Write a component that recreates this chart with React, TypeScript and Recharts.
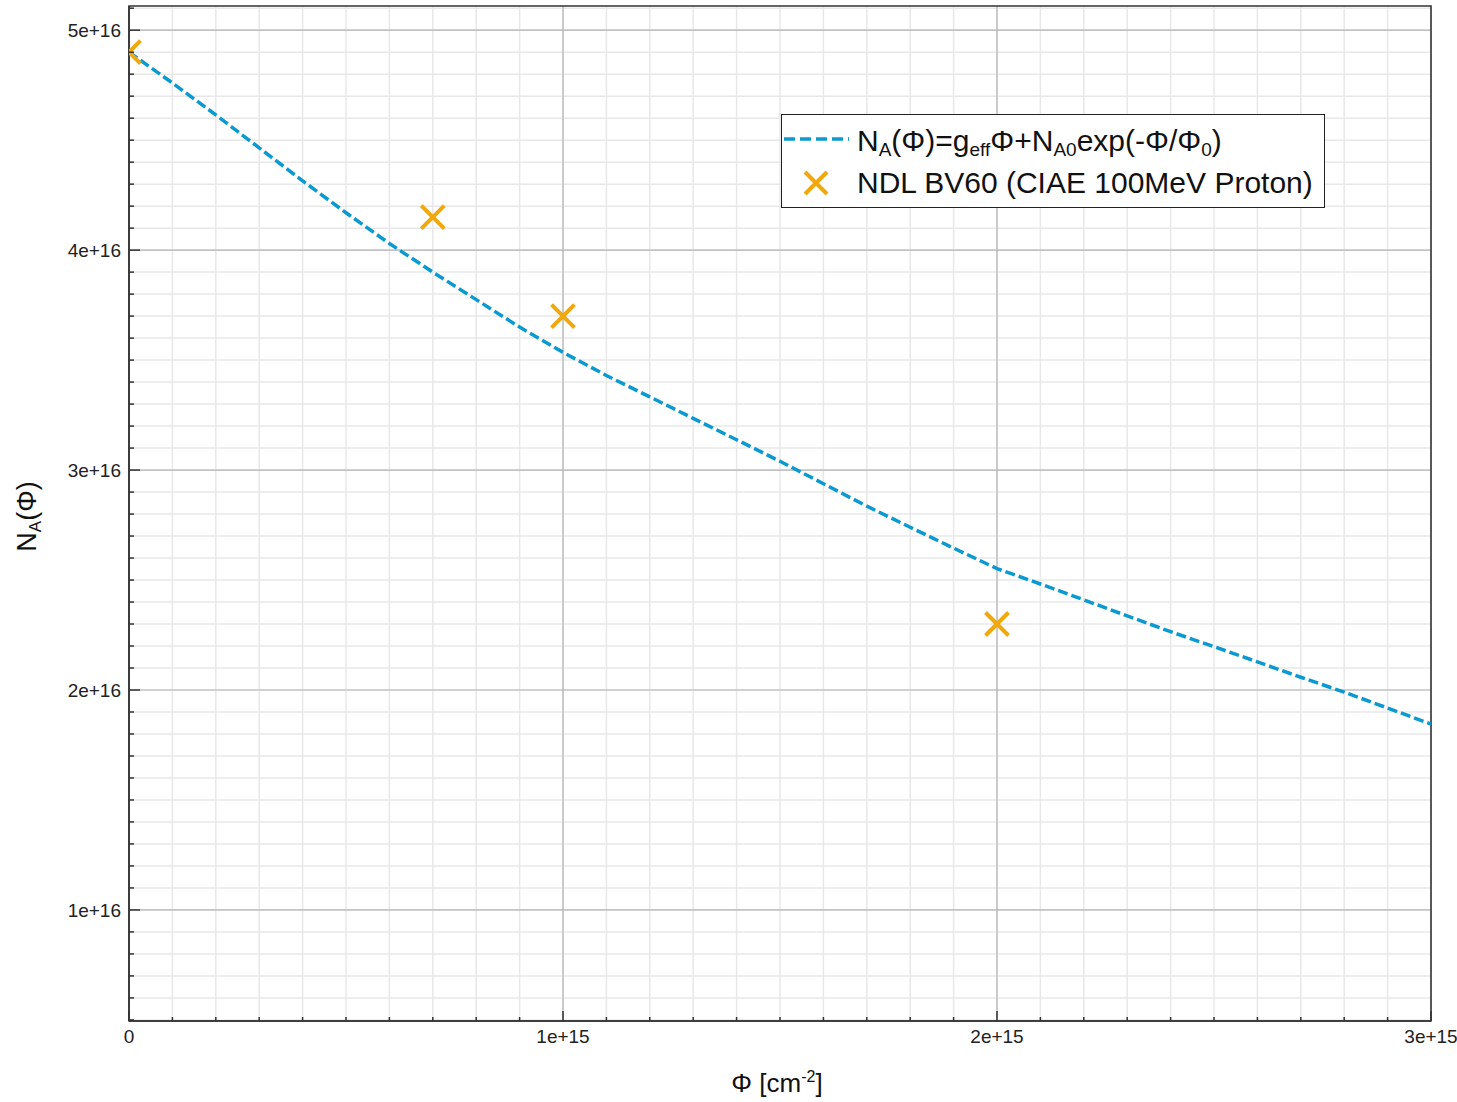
import React from 'react';
import {
  ComposedChart,
  Line,
  Scatter,
  XAxis,
  YAxis,
  CartesianGrid,
  ReferenceArea,
  Legend,
} from 'recharts';

// fit curve, sampled every 1e14 cm^-2
const fluence = [
  0, 1e14, 2e14, 3e14, 4e14, 5e14, 6e14, 7e14, 8e14, 9e14,
  1e15, 1.1e15, 1.2e15, 1.3e15, 1.4e15, 1.5e15, 1.6e15, 1.7e15, 1.8e15, 1.9e15,
  2e15, 2.1e15, 2.2e15, 2.3e15, 2.4e15, 2.5e15, 2.6e15, 2.7e15, 2.8e15, 2.9e15,
  3e15,
];
const fitNA = [
  4.9e16, 4.76e16, 4.615e16, 4.465e16, 4.315e16, 4.17e16, 4.03e16, 3.9e16, 3.775e16, 3.65e16,
  3.535e16, 3.43e16, 3.333e16, 3.235e16, 3.138e16, 3.04e16, 2.938e16, 2.836e16, 2.74e16, 2.645e16,
  2.552e16, 2.482e16, 2.41e16, 2.337e16, 2.265e16, 2.197e16, 2.128e16, 2.058e16, 1.99e16, 1.918e16,
  1.845e16,
];

// measured points
const measFluence = [0, 7e14, 1e15, 2e15];
const measNA = [4.9e16, 4.15e16, 3.7e16, 2.3e16];

const xDomain = [0, 3e15];
const yDomain = [4.95e15, 5.11e16];
const xMajorTicks = [0, 1e15, 2e15, 3e15];
const yMajorTicks = [1e16, 2e16, 3e16, 4e16, 5e16];
const xMinorTicks = Array.from({ length: 31 }, (_, i) => i * 1e14);
const yMinorTicks = Array.from({ length: 47 }, (_, i) => (i + 5) * 1e15);

const fitData = fluence.map((x, i) => ({ x, y: fitNA[i] }));
const measData = measFluence.map((x, i) => ({ x, y: measNA[i] }));

const FONT = '"Liberation Sans", Arial, sans-serif';
const LINE_COLOR = '#0a99d0';
const MARK_COLOR = '#f0a80c';
const AXIS_COLOR = '#333';

const fmt = (v: number) => (v === 0 ? '0' : v.toExponential());

const YTick = (props: any) => {
  const { x, y, payload } = props;
  const major = yMajorTicks.includes(payload.value);
  return (
    <g>
      <line x1={x} x2={x + (major ? 11 : 5)} y1={y} y2={y} stroke={AXIS_COLOR} strokeWidth={1.5} />
      {major && (
        <text x={x - 8} y={y} dy="0.36em" textAnchor="end" fontSize={19} fill="#222" fontFamily={FONT}>
          {fmt(payload.value)}
        </text>
      )}
    </g>
  );
};

const XTick = (props: any) => {
  const { x, y, payload } = props;
  const major = xMajorTicks.includes(payload.value);
  return (
    <g>
      <line x1={x} x2={x} y1={y} y2={y - (major ? 10 : 4)} stroke={AXIS_COLOR} strokeWidth={1.5} />
      {major && (
        <text x={x} y={y + 22} textAnchor="middle" fontSize={19} fill="#222" fontFamily={FONT}>
          {fmt(payload.value)}
        </text>
      )}
    </g>
  );
};

const XLabel = (props: any) => {
  const { viewBox } = props;
  const cx = viewBox.x + viewBox.width / 2 - 3;
  return (
    <text x={cx} y={viewBox.y + 71} textAnchor="middle" fontSize={26} fill="#111" fontFamily={FONT}>
      Φ [cm
      <tspan dy={-10} fontSize={16}>-2</tspan>
      <tspan dy={10}>]</tspan>
    </text>
  );
};

const YLabel = (props: any) => {
  const { viewBox } = props;
  const cx = viewBox.x + 36;
  const cy = viewBox.y + viewBox.height / 2 + 3;
  return (
    <text
      x={cx}
      y={cy}
      textAnchor="middle"
      fontSize={27}
      fill="#111"
      fontFamily={FONT}
      transform={`rotate(-90, ${cx}, ${cy})`}
    >
      N
      <tspan dy={5} fontSize={17}>A</tspan>
      <tspan dy={-5}>(Φ)</tspan>
    </text>
  );
};

const subStyle: React.CSSProperties = { fontSize: 19, verticalAlign: '-5px', lineHeight: 0 };

const renderLegend = () => (
  <div
    style={{
      width: 542,
      height: 92,
      border: '1px solid #222',
      background: '#fff',
      position: 'relative',
      fontFamily: FONT,
      fontSize: 30,
      color: '#111',
    }}
  >
    <div style={{ position: 'absolute', left: 0, top: 6, height: 40, display: 'flex', alignItems: 'center' }}>
      <svg width={75} height={40}>
        <line x1={2} x2={67} y1={18} y2={18} stroke={LINE_COLOR} strokeWidth={3.5} strokeDasharray="11 5" />
      </svg>
      <span style={{ lineHeight: '40px', whiteSpace: 'nowrap' }}>
        N<span style={subStyle}>A</span>(Φ)=g<span style={subStyle}>eff</span>Φ+N
        <span style={subStyle}>A0</span>exp(-Φ/Φ<span style={subStyle}>0</span>)
      </span>
    </div>
    <div style={{ position: 'absolute', left: 0, top: 48, height: 40, display: 'flex', alignItems: 'center' }}>
      <svg width={75} height={40}>
        <path d="M23 9 L45 31 M45 9 L23 31" stroke={MARK_COLOR} strokeWidth={4} fill="none" />
      </svg>
      <span style={{ lineHeight: '40px', whiteSpace: 'nowrap' }}>NDL BV60 (CIAE 100MeV Proton)</span>
    </div>
  </div>
);

const Cross = (props: any) => {
  const { cx, cy } = props;
  if (cx == null || cy == null) return null;
  const r = 11.5;
  return (
    <path
      d={`M${cx - r} ${cy - r} L${cx + r} ${cy + r} M${cx + r} ${cy - r} L${cx - r} ${cy + r}`}
      stroke={MARK_COLOR}
      strokeWidth={4}
      fill="none"
    />
  );
};

export default function App() {
  return (
    <div style={{ position: 'absolute', left: 0, top: 0, background: '#fff' }}>
      <ComposedChart width={1457} height={1102} margin={{ top: 6, right: 26, bottom: 0, left: 0 }}>
        <CartesianGrid horizontalValues={yMinorTicks} verticalValues={xMinorTicks} stroke="#e8e8e8" strokeWidth={1.5} />
        <CartesianGrid horizontalValues={yMajorTicks} verticalValues={xMajorTicks} stroke="#b4b4b4" strokeWidth={1.2} />
        <XAxis
          dataKey="x"
          type="number"
          domain={xDomain}
          allowDataOverflow
          ticks={xMinorTicks}
          interval={0}
          tickLine={false}
          tickSize={0}
          tickMargin={0}
          tick={<XTick />}
          axisLine={{ stroke: AXIS_COLOR, strokeWidth: 1.5 }}
          height={81}
          label={<XLabel />}
        />
        <YAxis
          dataKey="y"
          type="number"
          domain={yDomain}
          allowDataOverflow
          ticks={yMinorTicks}
          interval={0}
          tickLine={false}
          tickSize={0}
          tickMargin={0}
          tick={<YTick />}
          axisLine={{ stroke: AXIS_COLOR, strokeWidth: 1.5 }}
          width={129}
          label={<YLabel />}
        />
        <ReferenceArea
          x1={xDomain[0]}
          x2={xDomain[1]}
          y1={yDomain[0]}
          y2={yDomain[1]}
          fill="none"
          stroke={AXIS_COLOR}
          strokeWidth={1.5}
        />
        <Line
          data={fitData}
          dataKey="y"
          type="linear"
          stroke={LINE_COLOR}
          strokeWidth={3.5}
          strokeDasharray="10 4"
          dot={false}
          isAnimationActive={false}
          name="fit"
        />
        <Scatter data={measData} dataKey="y" shape={<Cross />} isAnimationActive={false} name="NDL BV60" />
        <Legend
          layout="vertical"
          align="center"
          verticalAlign="middle"
          content={renderLegend}
          wrapperStyle={{ position: 'absolute', left: 781, top: 114, width: 544, height: 94 }}
        />
      </ComposedChart>
    </div>
  );
}
